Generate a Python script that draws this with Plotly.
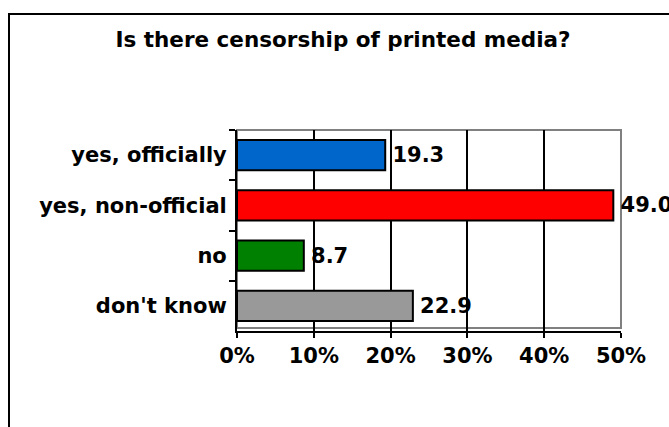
import plotly.graph_objects as go

# Survey answers and their shares (percent)
categories = ["yes, officially", "yes, non-official", "no", "don't know"]
shares = [19.3, 49.0, 8.7, 22.9]
bar_colors = ["#0066CC", "#FF0000", "#008000", "#999999"]
x_ticks = [0, 10, 20, 30, 40, 50]
x_tick_labels = [f"{v}%" for v in x_ticks]
title_text = "Is there censorship of printed media?"

W, H = 669, 427
L, R, T, B = 237, 621, 130, 331  # plot area edges in pixels

FONT = "DejaVu Sans"
TXT = 21


def px_x(px):
    return (px - L) / (R - L)


def px_y(py):
    return (B - py) / (B - T)


fig = go.Figure(
    go.Bar(
        x=shares,
        y=categories,
        orientation="h",
        width=0.6,
        marker=dict(color=bar_colors, line=dict(color="black", width=2)),
        text=[f"\u2009{v:.1f}" for v in shares],
        textposition="outside",
        constraintext="none",
        cliponaxis=False,
        textfont=dict(family=FONT, size=TXT, color="black", weight="bold"),
        hoverinfo="skip",
    )
)

fig.update_layout(
    width=W,
    height=H,
    margin=dict(l=L, r=W - R, t=T, b=H - B, pad=0),
    paper_bgcolor="white",
    plot_bgcolor="white",
    showlegend=False,
    title=dict(
        text=title_text,
        font=dict(family=FONT, size=21.5, color="black", weight="bold"),
        xref="paper",
        x=px_x(343),
        xanchor="center",
        yref="container",
        y=1 - 39 / H,
        yanchor="middle",
    ),
    xaxis=dict(
        range=[0, 50],
        tickvals=x_ticks,
        ticktext=x_tick_labels,
        tickfont=dict(family=FONT, size=TXT, color="black", weight="bold"),
        showgrid=True,
        gridcolor="black",
        gridwidth=1.5,
        showline=True,
        linecolor="black",
        linewidth=2,
        ticks="outside",
        ticklen=5,
        tickwidth=2,
        tickcolor="black",
        zeroline=False,
        fixedrange=True,
    ),
    yaxis=dict(
        categoryorder="array",
        categoryarray=categories,
        range=[3.5, -0.5],
        tickson="boundaries",
        ticks="outside",
        ticklen=6,
        tickwidth=2,
        tickcolor="black",
        showline=True,
        linecolor="black",
        linewidth=2,
        showgrid=False,
        tickfont=dict(family=FONT, size=TXT, color="black", weight="bold"),
        ticklabelstandoff=4,
        fixedrange=True,
    ),
    shapes=[
        # grey plot-area border
        dict(
            type="rect", xref="paper", yref="paper",
            x0=0, x1=1, y0=px_y(328), y1=1,
            line=dict(color="#808080", width=2), layer="below",
        ),
        # outer chart frame (runs off the right and bottom edges)
        dict(
            type="rect", xref="paper", yref="paper",
            x0=px_x(9), x1=px_x(690), y0=px_y(450), y1=px_y(14),
            line=dict(color="black", width=2), fillcolor="rgba(0,0,0,0)",
        ),
    ],
)

fig.write_html("out.html")
